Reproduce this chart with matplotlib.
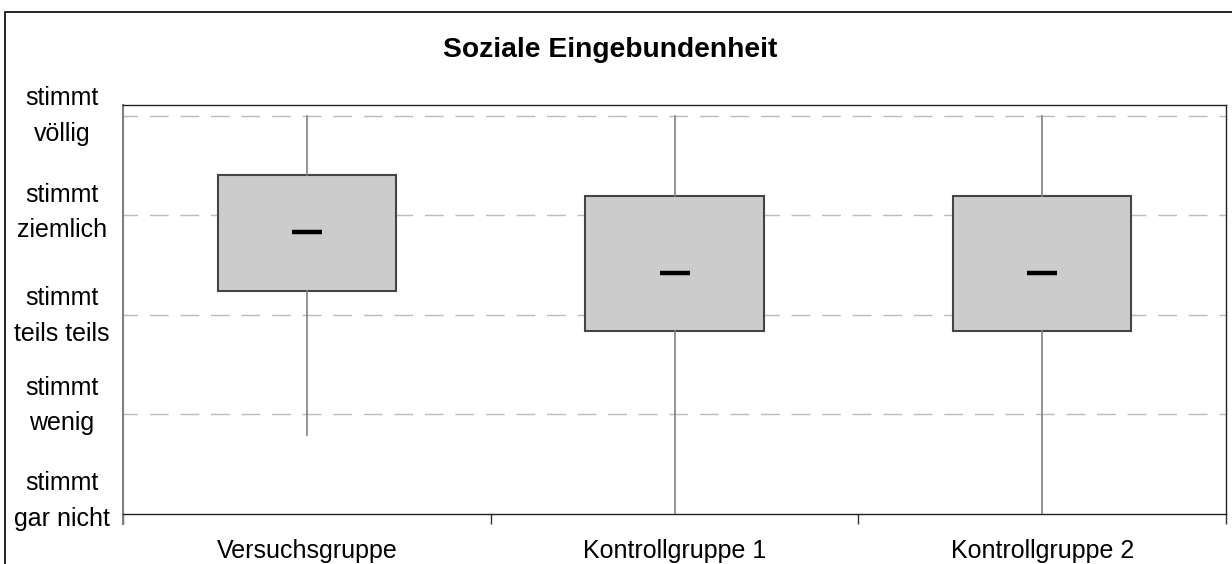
import matplotlib.pyplot as plt
from matplotlib.patches import Rectangle

plt.rcParams['font.family'] = ['Liberation Sans', 'DejaVu Sans']

# data
groups = ["Versuchsgruppe", "Kontrollgruppe 1", "Kontrollgruppe 2"]
whis_low = [1.79, 1.0, 1.0]
q1 = [3.24, 2.84, 2.84]
median = [3.83, 3.42, 3.42]
q3 = [4.41, 4.20, 4.20]
whis_high = [5.0, 5.0, 5.0]

levels = [1, 2, 3, 4, 5]
level_labels = ["stimmt\ngar nicht", "stimmt\nwenig", "stimmt\nteils teils",
                "stimmt\nziemlich", "stimmt\nvöllig"]

fig = plt.figure(figsize=(12.32, 5.64), dpi=100)
ax = fig.add_axes([123/1232, 1-514/564, (1226-123)/1232, (514-105)/564])

stats = []
for i, g in enumerate(groups):
    stats.append(dict(label=g, whislo=whis_low[i], q1=q1[i], med=median[i],
                      q3=q3[i], whishi=whis_high[i], fliers=[]))

pos = list(range(1, len(groups) + 1))
ax.bxp(stats, positions=pos, widths=0.485, showcaps=False, patch_artist=True,
       boxprops=dict(facecolor='#cccccc', edgecolor='#444444', linewidth=1.5),
       whiskerprops=dict(color='#808080', linewidth=1.2),
       medianprops=dict(linewidth=0), zorder=3)
ax.plot(pos, median, linestyle='none', marker='_', markersize=21,
        markeredgewidth=3.2, color='black', zorder=4)

ax.set_ylim(1, 5.11)
ax.set_xlim(0.5, len(groups) + 0.5)

# grid
for lv in levels[1:]:
    ax.axhline(lv, color='#bbbbbb', linewidth=1,
               linestyle=(3, (13.5, 8.5)), zorder=1)

# y labels
ax.set_yticks([])
offsets = [13, 9, -1, 3, 0]
for lv, lab, off in zip(levels, level_labels, offsets):
    ax.annotate(lab, xy=(0, lv), xycoords=('axes fraction', 'data'),
                xytext=(-44, off*0.72), textcoords='offset points',
                ha='center', va='center', fontsize=18, linespacing=1.62)

# x ticks: boundaries as major, labels as minor
ax.set_xticks([p - 0.5 for p in pos] + [pos[-1] + 0.5])
ax.set_xticklabels([])
ax.tick_params(axis='x', which='major', direction='out', length=7, width=1,
               color='#333333')
ax.set_xticks(pos, minor=True)
ax.set_xticklabels(groups, minor=True, fontsize=18)
ax.tick_params(axis='x', which='minor', length=0, pad=18)

for s in ['top', 'right', 'bottom']:
    ax.spines[s].set_color('#222222')
    ax.spines[s].set_linewidth(1)
ax.spines['left'].set_color('#808080')
ax.spines['left'].set_linewidth(1.5)
ax.spines['left'].set_bounds(0.9, 5.11)

fig.text(610/1232, 1-50/564, "Soziale Eingebundenheit", ha='center',
         va='center', fontsize=20.3, fontweight='bold')

# outer chart border
fig.patches.append(Rectangle((5/1232, -0.5), 2, 1.5 - 12/564,
                             transform=fig.transFigure, fill=False,
                             edgecolor='black', linewidth=1.2))

fig.savefig("out.png", dpi=100)
